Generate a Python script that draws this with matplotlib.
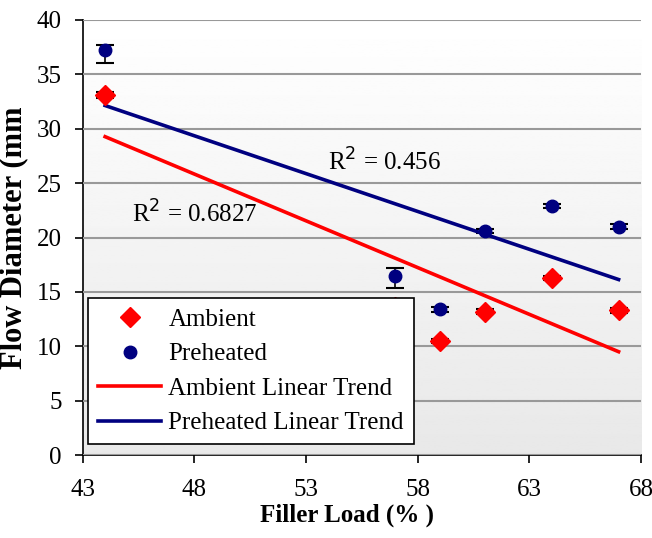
import matplotlib
matplotlib.use("Agg")
import matplotlib.pyplot as plt
import numpy as np

plt.rcParams['font.family'] = ['Liberation Serif', 'DejaVu Serif']

# filler load (%) and flow diameter (mm)
ambient_x = [44, 57, 59, 61, 64, 67]
ambient_y = [33.1, 13.6, 10.5, 13.2, 16.3, 13.3]
ambient_err = [0.3, 0.3, 0.2, 0.2, 0.2, 0.2]

preheated_x = [44, 57, 59, 61, 64, 67]
preheated_y = [37.2, 16.5, 13.4, 20.6, 22.9, 21.0]
preheated_err_lo = [1.2, 1.1, 0.2, 0.2, 0.2, 0.2]
preheated_err_hi = [0.5, 0.7, 0.2, 0.2, 0.2, 0.2]

r2_labels = ["R$^2$ = 0.6827", "R$^2$ = 0.456"]

red = '#ff0000'
navy = '#000080'

fig = plt.figure(figsize=(6.52, 5.38), dpi=100)
ax = fig.add_axes([0.127, 0.154, 0.856, 0.809])

# light gradient background like the original spreadsheet chart
grad = np.linspace(1.0, 0.91, 256).reshape(-1, 1)
ax.imshow(grad, cmap='gray', vmin=0, vmax=1, aspect='auto',
          extent=[0, 1, 0, 1], transform=ax.transAxes, zorder=0)

ax.set_xlim(43, 68)
ax.set_ylim(0, 40)
ax.set_xticks(np.arange(43, 69, 5))
ax.set_yticks(np.arange(0, 41, 5))
ax.yaxis.grid(True, color='#999999', linewidth=1.5, zorder=1)
ax.set_axisbelow(False)

for s in ['top', 'right']:
    ax.spines[s].set_visible(False)
ax.spines['left'].set_linewidth(1.2)
ax.spines['bottom'].set_linewidth(1.2)
ax.tick_params(direction='out', length=6, width=1.2, labelsize=18, pad=9)
ax.tick_params(axis='x', pad=11)

# error bars
ax.errorbar(ambient_x, ambient_y, yerr=ambient_err, fmt='none',
            ecolor='black', capsize=6.5, elinewidth=1.2, capthick=1.5, zorder=3)
ax.errorbar(preheated_x, preheated_y, yerr=[preheated_err_lo, preheated_err_hi],
            fmt='none', ecolor='black', capsize=6.5, elinewidth=1.2, capthick=1.5, zorder=3)

# trend lines
xs = np.array([min(ambient_x), max(ambient_x)])
pa = np.polyfit(ambient_x, ambient_y, 1)
pp = np.polyfit(preheated_x, preheated_y, 1)
ax.plot(xs, np.polyval(pa, xs), color=red, lw=2.6, zorder=4, label='Ambient Linear Trend')
ax.plot(xs, np.polyval(pp, xs), color=navy, lw=2.6, zorder=4, label='Preheated Linear Trend')

ax.plot(ambient_x, ambient_y, 'D', color=red, markersize=10, zorder=5, label='Ambient')
ax.plot(preheated_x, preheated_y, 'o', color=navy, markersize=9, zorder=5, label='Preheated')

ax.text(45.2, 22.2, r2_labels[0], fontsize=18, va='center', zorder=6)
ax.text(54.0, 26.9, r2_labels[1], fontsize=18, va='center', zorder=6)

h, l = ax.get_legend_handles_labels()
order = [2, 3, 0, 1]
leg = ax.legend([h[i] for i in order], [l[i] for i in order],
                loc='lower left', bbox_to_anchor=(0.01, 0.025), borderaxespad=0,
                fontsize=18, frameon=True, fancybox=False, edgecolor='black',
                framealpha=1, handlelength=2.5, handletextpad=0.3,
                labelspacing=0.48, borderpad=0.4)
leg.get_frame().set_linewidth(1.2)
leg.set_zorder(10)

ax.set_xlabel('Filler Load (% )', fontsize=18, fontweight='bold')
ax.xaxis.set_label_coords(0.473, -0.112)
ax.set_ylabel('Flow Diameter (mm', fontsize=22, fontweight='bold', labelpad=6)

fig.savefig('out.png', dpi=100)
